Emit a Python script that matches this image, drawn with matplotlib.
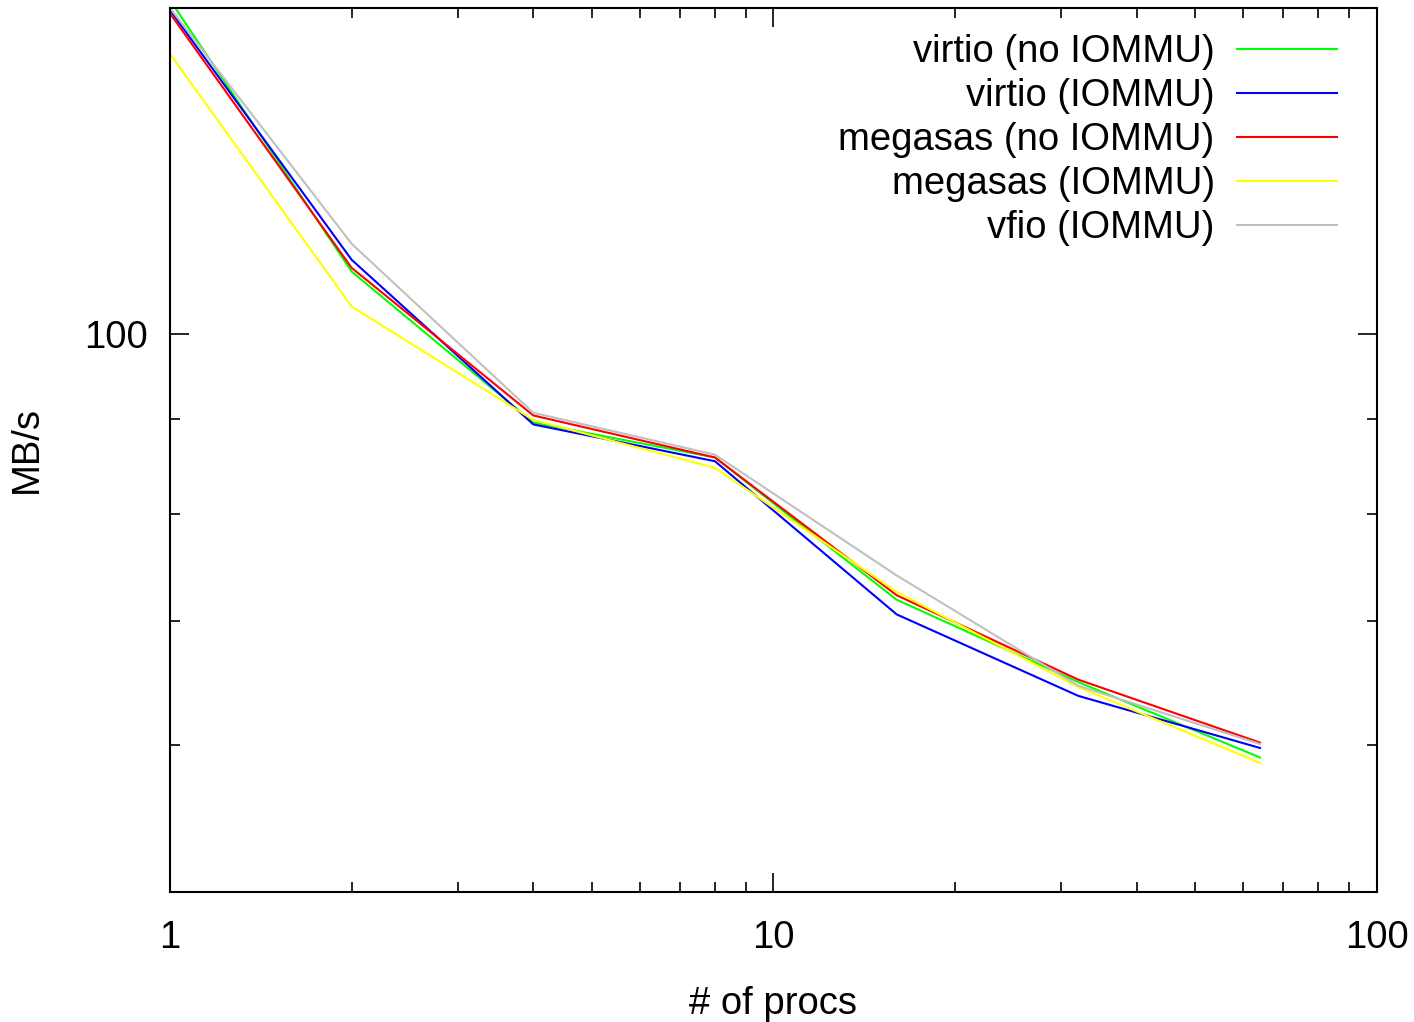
import numpy as np
import matplotlib
matplotlib.use('Agg')
import matplotlib.pyplot as plt
from matplotlib.ticker import FixedLocator, FixedFormatter, NullFormatter

plt.rcParams['font.family'] = ['Liberation Sans', 'DejaVu Sans']

# Data (MB/s per number of procs)
procs = [1, 2, 4, 8, 16, 32, 64]
virtio_no_iommu = [151.5, 108.1, 89.6, 85.8, 71.9, 64.9, 59.1]
virtio_iommu = [149.6, 109.7, 89.4, 85.4, 70.6, 63.8, 59.8]
megasas_no_iommu = [149.0, 108.6, 90.4, 85.8, 72.3, 65.1, 60.2]
megasas_iommu = [141.7, 103.5, 89.9, 84.7, 72.6, 64.5, 58.7]
vfio_iommu = [150.0, 111.9, 90.7, 86.1, 74.1, 64.6, 60.1]

series = [
    ('virtio (no IOMMU)', virtio_no_iommu, '#00ff00'),
    ('virtio (IOMMU)', virtio_iommu, '#0000ff'),
    ('megasas (no IOMMU)', megasas_no_iommu, '#ff0000'),
    ('megasas (IOMMU)', megasas_iommu, '#ffff00'),
    ('vfio (IOMMU)', vfio_iommu, '#c0c0c0'),
]

fs = 27.5

fig = plt.figure(figsize=(14.14, 10.22), dpi=100)
ax = fig.add_axes([0.1202, 0.1272, 0.8536, 0.8650])

for label, vals, col in series:
    ax.plot(procs, vals, color=col, lw=1.5, label=label)

ax.set_xscale('log')
ax.set_yscale('log')
ax.set_xlim(1, 100)
ax.set_ylim(50, 150)

ax.xaxis.set_major_locator(FixedLocator([1, 10, 100]))
ax.xaxis.set_major_formatter(FixedFormatter(['1', '10', '100']))
ax.xaxis.set_minor_locator(FixedLocator([2, 3, 4, 5, 6, 7, 8, 9, 20, 30, 40, 50, 60, 70, 80, 90]))
ax.xaxis.set_minor_formatter(NullFormatter())
ax.yaxis.set_major_locator(FixedLocator([100]))
ax.yaxis.set_major_formatter(FixedFormatter(['100']))
ax.yaxis.set_minor_locator(FixedLocator([60, 70, 80, 90]))
ax.yaxis.set_minor_formatter(NullFormatter())

ax.tick_params(which='both', direction='in', top=True, right=True, width=1.2, labelsize=fs, colors='black')
ax.tick_params(which='major', length=14)
ax.tick_params(which='minor', length=7)
ax.tick_params(axis='y', which='major', pad=16)
ax.tick_params(axis='x', which='major', pad=20)
for s in ax.spines.values():
    s.set_linewidth(1.5)

ax.set_xlabel('# of procs', fontsize=fs, labelpad=22)
ax.set_ylabel('MB/s', fontsize=fs, labelpad=28)

leg = ax.legend(loc='upper right', bbox_to_anchor=(1.0, 1.016), frameon=False,
                markerfirst=False, fontsize=fs,
                handlelength=2.62, handletextpad=0.58, labelspacing=0.21,
                borderpad=0.3, borderaxespad=0.75)

fig.savefig('out.png', dpi=100)
